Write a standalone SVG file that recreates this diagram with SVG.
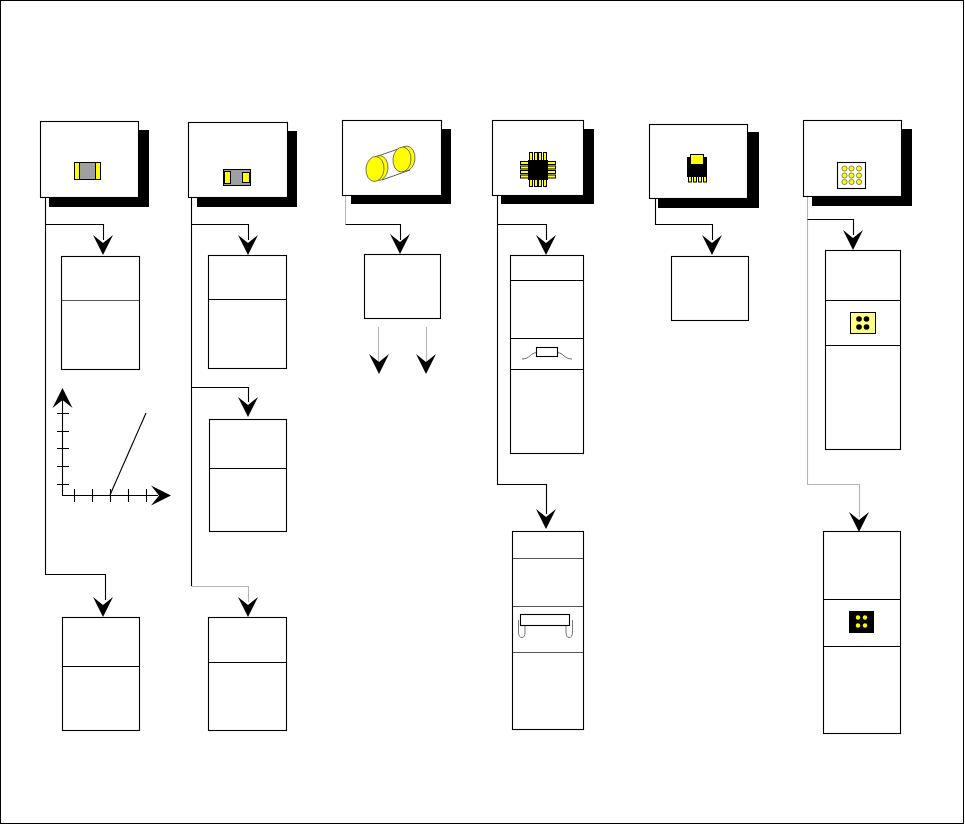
<svg xmlns="http://www.w3.org/2000/svg" width="965" height="824" viewBox="0 0 965 824">
<style>
.b{fill:#fff;stroke:#000;stroke-width:1.1}
.s{fill:#000}
.c{fill:none;stroke:#000;stroke-width:1.1}
.g{fill:none;stroke:#b5b5b5;stroke-width:1.1}
.d{fill:none;stroke:#555;stroke-width:1.1}
.y{fill:#ff0;stroke:#000;stroke-width:1}
</style>
<defs>
<path id="ah" d="M0 0L-10-20L0-12L10-20Z" fill="#000"/>
</defs>
<rect x="0.5" y="0.5" width="963" height="823" fill="#fff" stroke="#000"/>
<g id="connectors">
<path class="c" d="M45.500 198V574.500H105.500V600M45.500 224.500H103.500V240"/>
<path class="c" d="M191.500 198V387.500H248.500V402M191.500 224.500H248.500V240"/>
<path class="c" d="M191.500 387V586"/>
<path class="g" d="M191.500 586.500H248.500V602"/>
<path class="g" d="M345.500 196V224"/>
<path class="c" d="M345.500 224.500H400.500V240"/>
<path class="g" d="M378.500 327V362M426.500 327V362"/>
<path class="c" d="M497.500 196V484.500H546.500V514M497.500 224.500H546.500V240"/>
<path class="c" d="M655.500 199V224.500H712.500V240"/>
<path class="g" d="M807.500 197V484.500H859.500V517"/>
<path class="c" d="M807.500 219.500H853.500V235"/>
<path class="c" d="M62.500 400V495.500H158"/>
<path class="c" d="M110 495L146 413"/>
<path class="c" d="M57 413.500H69M57 431.500H69M57 448.500H69M57 466.500H69M57 484.500H69M74.500 489V502M92.500 489V502M110.500 489V502M128.500 489V502M146.500 489V502"/>
</g>
<g id="arrowheads">
<use href="#ah" x="103" y="255"/>
<use href="#ah" x="248" y="255"/>
<use href="#ah" x="400" y="254"/>
<use href="#ah" x="546" y="255"/>
<use href="#ah" x="712" y="255"/>
<use href="#ah" x="853" y="250"/>
<use href="#ah" x="248" y="417"/>
<use href="#ah" x="103" y="617"/>
<use href="#ah" x="248" y="617"/>
<use href="#ah" x="379" y="374"/>
<use href="#ah" x="426" y="374"/>
<use href="#ah" x="546" y="529"/>
<use href="#ah" x="859" y="532"/>
<use href="#ah" transform="translate(62.500 388) rotate(180)"/>
<use href="#ah" transform="translate(171 495.500) rotate(-90)"/>
</g>
<g id="card1"><rect class="s" x="49" y="130" width="100" height="77"/><rect class="b" x="40.500" y="121.500" width="98" height="76"/>
<rect x="74.500" y="162.500" width="26" height="17" fill="#a0a0a0" stroke="#000"/><rect class="y" x="74.500" y="162.500" width="5" height="17"/><rect class="y" x="95.500" y="162.500" width="5" height="17"/></g>
<g id="card2"><rect class="s" x="197" y="131" width="100" height="76"/><rect class="b" x="188.500" y="122.500" width="99" height="75"/>
<rect x="223.500" y="169.500" width="27" height="16" fill="#a0a0a0" stroke="#000"/><rect class="y" x="224.500" y="171.500" width="6" height="12"/><rect class="y" x="242.500" y="172.500" width="7" height="10"/></g>
<g id="card3"><rect class="s" x="351" y="129" width="100" height="75"/><rect class="b" x="342.500" y="120.500" width="99" height="75"/>
<path d="M375 157L404 147M382 180L410 170" stroke="#333" fill="none" stroke-width=".8"/>
<ellipse class="y" cx="379" cy="168" rx="9" ry="12.500" transform="rotate(5 379 168)" style="stroke:#444;stroke-width:.7"/><ellipse class="y" cx="375" cy="169" rx="9" ry="12.500" transform="rotate(5 375 169)" style="stroke:#444;stroke-width:.7"/>
<ellipse class="y" cx="406" cy="158.500" rx="9" ry="12.500" transform="rotate(5 406 158.500)" style="stroke:#444;stroke-width:.7"/><ellipse class="y" cx="402" cy="159.500" rx="9" ry="12.500" transform="rotate(5 402 159.500)" style="stroke:#444;stroke-width:.7"/></g>
<g id="card4"><rect class="s" x="501" y="129" width="93" height="75"/><rect class="b" x="492.500" y="120.500" width="91" height="75"/>
<rect class="y" x="529.500" y="152.500" width="3" height="34"/><rect class="y" x="534.500" y="152.500" width="3" height="34"/><rect class="y" x="538.500" y="152.500" width="3" height="34"/><rect class="y" x="543.500" y="152.500" width="3" height="34"/>
<rect class="y" x="520.500" y="161.500" width="35" height="3"/><rect class="y" x="520.500" y="166" width="35" height="3"/><rect class="y" x="520.500" y="170.500" width="35" height="3"/><rect class="y" x="520.500" y="175" width="35" height="3"/>
<rect class="s" x="528" y="160" width="20" height="20"/></g>
<g id="card5"><rect class="s" x="658" y="132" width="101" height="76"/><rect class="b" x="649.500" y="124.500" width="98" height="74"/>
<rect class="y" x="688.500" y="175" width="3" height="7"/><rect class="y" x="693.500" y="175" width="3" height="7"/><rect class="y" x="698.500" y="175" width="3" height="7"/><rect class="y" x="703.500" y="175" width="3" height="7"/>
<rect class="s" x="687" y="157" width="20" height="20"/><rect class="y" x="690.500" y="154.500" width="13" height="10"/></g>
<g id="card6"><rect class="s" x="812" y="129" width="100" height="77"/><rect class="b" x="803.500" y="120.500" width="98" height="76"/>
<rect class="b" x="837.500" y="162.500" width="28" height="26"/>
<g fill="#ff0" stroke="#555" stroke-width=".7"><circle cx="844.500" cy="168.500" r="2.600"/><circle cx="851.500" cy="168.500" r="2.600"/><circle cx="859" cy="168.500" r="2.600"/><circle cx="844.500" cy="175.500" r="2.600"/><circle cx="851.500" cy="175.500" r="2.600"/><circle cx="859" cy="175.500" r="2.600"/><circle cx="844.500" cy="182" r="2.600"/><circle cx="851.500" cy="182" r="2.600"/><circle cx="859" cy="182" r="2.600"/></g></g>
<g id="box1"><rect class="b" x="61.500" y="256.500" width="78" height="113"/><path class="d" d="M62 300.500H139"/></g>
<g id="box2"><rect class="b" x="208.500" y="255.500" width="78" height="113"/><path class="c" d="M209 299.500H286"/></g>
<g id="box3"><rect class="b" x="364.500" y="254.500" width="76" height="64"/></g>
<g id="box4"><rect class="b" x="510.500" y="255.500" width="73" height="198"/><path class="c" d="M511 280.500H583M511 338.500H583M511 369.500H583"/>
<path d="M522 359C530 359 530 353 537 352.500M557 352.500C564 353 564 359 572 359" fill="none" stroke="#444" stroke-width=".8"/><rect class="b" x="536.500" y="347.500" width="21" height="9"/></g>
<g id="box5"><rect class="b" x="671.500" y="256.500" width="77" height="64"/></g>
<g id="box6"><rect class="b" x="825.500" y="250.500" width="75" height="199"/><path class="c" d="M826 300.500H900M826 345.500H900"/>
<rect x="850.500" y="312.500" width="25" height="21" fill="#ffff80" stroke="#000"/><g fill="#000"><circle cx="859" cy="319" r="2.800"/><circle cx="866.500" cy="319" r="2.800"/><circle cx="859" cy="327" r="2.800"/><circle cx="866.500" cy="327" r="2.800"/></g></g>
<g id="box7"><rect class="b" x="209.500" y="419.500" width="77" height="112"/><path class="c" d="M210 468.500H286"/></g>
<g id="box8"><rect class="b" x="62.500" y="617.500" width="77" height="113"/><path class="c" d="M63 666.500H139"/></g>
<g id="box9"><rect class="b" x="208.500" y="617.500" width="78" height="113"/><path class="c" d="M209 662.500H286"/></g>
<g id="box10"><rect class="b" x="512.500" y="531.500" width="71" height="198"/><path class="d" d="M513 558.500H583M513 606.500H583M513 652.500H583"/>
<path d="M518.500 620V632Q518.500 637.500 522 637.500Q525 637.500 525 632V626M566 626V632Q566 637.500 569 637.500Q572.500 637.500 572.500 632V620" fill="none" stroke="#555" stroke-width=".8"/><rect class="b" x="520.500" y="614.500" width="49" height="11"/></g>
<g id="box11"><rect class="b" x="823.500" y="531.500" width="77" height="202"/><path class="c" d="M824 599.500H900M824 646.500H900"/>
<rect class="s" x="849" y="611" width="25" height="22"/><g fill="#ff0"><circle cx="858" cy="617.500" r="2.200"/><circle cx="865" cy="617.500" r="2.200"/><circle cx="858" cy="625.500" r="2.200"/><circle cx="865" cy="625.500" r="2.200"/></g></g>
</svg>
